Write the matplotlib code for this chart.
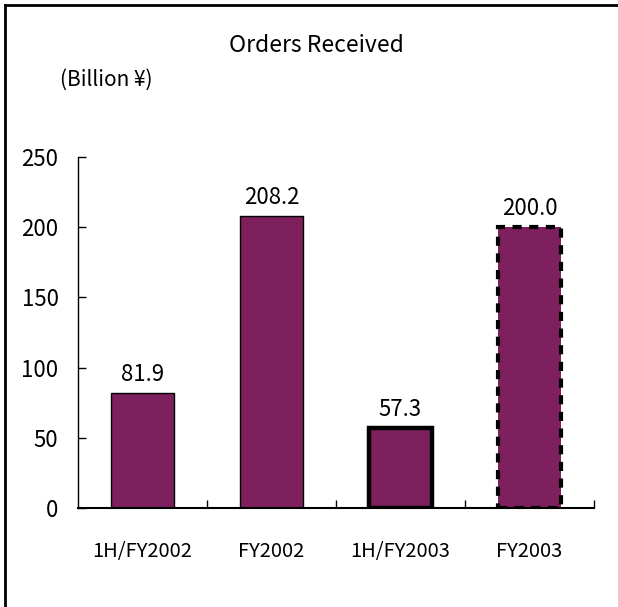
import matplotlib
matplotlib.use('Agg')
import matplotlib.pyplot as plt
from matplotlib.lines import Line2D

plt.rcParams['font.family'] = ['Noto Sans CJK JP', 'DejaVu Sans']

# data
categories = ['1H/FY2002', 'FY2002', '1H/FY2003', 'FY2003']
orders = [81.9, 208.2, 57.3, 200.0]
value_labels = ['81.9', '208.2', '57.3', '200.0']
yticks = [0, 50, 100, 150, 200, 250]

bar_color = '#7E1F5E'

fig = plt.figure(figsize=(6.18, 6.07), dpi=100)
ax = fig.add_axes([78/618, 1-508/607, 516/618, 351/607])

x = list(range(len(categories)))
bars = ax.bar(x, orders, width=0.49, color=bar_color, edgecolor='black', linewidth=1)
# third bar: thick solid edge, fourth bar: thick dashed edge (forecast)
bars[2].set_linewidth(3.2)
bars[3].set_linewidth(3.0)
bars[3].set_linestyle((0, (2.2, 1.8)))

for xi, v, lab in zip(x, orders, value_labels):
    ax.annotate(lab, (xi, v), xytext=(0, 5), textcoords='offset points',
                ha='center', va='bottom', fontsize=16)

ax.set_xlim(-0.5, len(categories) - 0.5)
ax.set_ylim(0, 250)
ax.set_yticks(yticks)
ax.set_yticklabels([str(t) for t in yticks], fontsize=16)
ax.tick_params(axis='y', direction='in', length=6, width=1, pad=14)

# category labels centred, ticks at the category boundaries
ax.set_xticks(x)
ax.set_xticklabels(categories, fontsize=14.5)
ax.tick_params(axis='x', which='major', length=0, pad=24)
ax.set_xticks([i + 0.5 for i in x], minor=True)
ax.tick_params(axis='x', which='minor', direction='in', length=6, width=1)

for s in ['top', 'right']:
    ax.spines[s].set_visible(False)
ax.spines['left'].set_linewidth(1)
ax.spines['bottom'].set_linewidth(1.5)

fig.text(316/618, 1-45/607, 'Orders Received', ha='center', va='center', fontsize=16.5)
fig.text(60/618, 1-80/607, '(Billion ¥)', ha='left', va='center', fontsize=15)

# outer frame (only top and left edges show in the picture)
fig.add_artist(Line2D([5/618, 5/618], [0, 1-5/607], color='black', linewidth=2, transform=fig.transFigure))
fig.add_artist(Line2D([5/618, 1], [1-5/607, 1-5/607], color='black', linewidth=2, transform=fig.transFigure))

fig.savefig('out.png', dpi=100)
